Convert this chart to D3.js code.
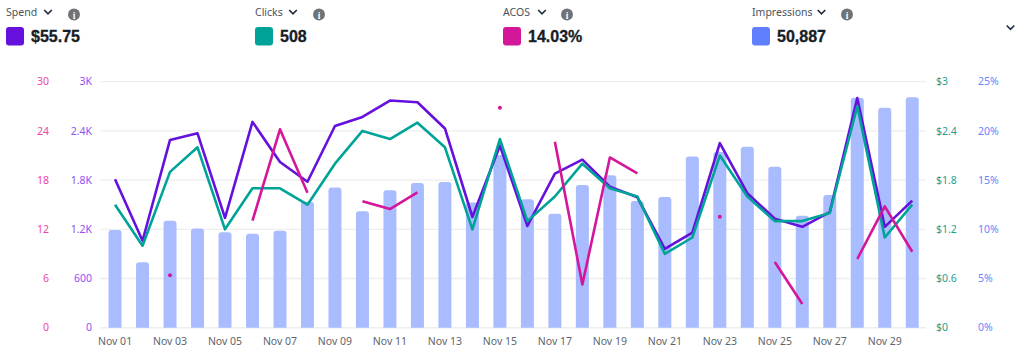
<!DOCTYPE html>
<html><head><meta charset="utf-8">
<script src="https://cdn.jsdelivr.net/npm/d3@7"></script>
<style>html,body{margin:0;padding:0;background:#fff}svg{display:block}text{font-family:"Noto Sans",sans-serif}</style>
</head><body><svg id="c" width="1024" height="360"></svg>
<script>
const days = d3.range(1,31).map(d=>"Nov "+String(d).padStart(2,"0"));
const impressions = [1191,797,1305,1211,1163,1146,1183,1537,1711,1419,1675,1764,1776,1528,2106,1565,1390,1740,1858,1545,1593,2089,2144,2207,1963,1366,1618,2805,2683,2809];
const spend = [1.81,1.06,2.29,2.37,1.34,2.51,2.02,1.78,2.46,2.57,2.77,2.75,2.43,1.35,2.22,1.24,1.88,2.05,1.72,1.59,0.96,1.16,2.25,1.64,1.33,1.23,1.41,2.80,1.23,1.55];
const clicks = [15,10,19,22,12,17,17,15,20,24,23,25,22,12,23,13,16,20,17,16,9,11,21,16,13,13,14,27,11,15];
const acos = [null,null,5.32,null,null,10.88,20.16,13.72,null,12.84,12.06,13.76,null,null,22.36,null,18.9,4.4,17.3,15.69,null,null,11.28,null,6.67,2.41,null,6.98,12.33,7.72];
const pinkTicks = ["0","6","12","18","24","30"];
const purpleTicks = ["0","600","1.2K","1.8K","2.4K","3K"];
const tealTicks = ["$0","$0.6","$1.2","$1.8","$2.4","$3"];
const blueTicks = ["0%","5%","10%","15%","20%","25%"];
const metrics = [
 {name:"Spend",value:"$55.75",x:6,color:"#6610dd",chevX:48,infoX:74},
 {name:"Clicks",value:"508",x:255,color:"#00a398",chevX:293,infoX:319},
 {name:"ACOS",value:"14.03%",x:503,color:"#d4169a",chevX:542,infoX:567},
 {name:"Impressions",value:"50,887",x:752,color:"#5f7fff",chevX:821.5,infoX:847}
];
const svg = d3.select("#c");
const x = d3.scaleBand().domain(days).range([101.3,926]);
const yTop=81.7, yBot=327.7;
const yImp = d3.scaleLinear().domain([0,3000]).range([yBot,yTop]);
const ySpend = d3.scaleLinear().domain([0,3]).range([yBot,yTop]);
const yClicks = d3.scaleLinear().domain([0,30]).range([yBot,yTop]);
const yAcos = d3.scaleLinear().domain([0,25]).range([yBot,yTop]);
const cx = d=>x(d)+x.bandwidth()/2;

// gridlines
const yIdx = d3.scaleLinear().domain([0,5]).range([yBot,yTop]);
svg.append("g").selectAll("line").data(d3.range(6)).join("line")
 .attr("x1",100).attr("x2",926).attr("y1",d=>yIdx(d)).attr("y2",d=>yIdx(d))
 .attr("stroke","#eeeeee").attr("stroke-width",d=>d===0?1.6:1.3);

// bars
const bw=13;
svg.append("g").selectAll("path").data(days).join("path")
 .attr("fill","#a9bcff")
 .attr("d",(d,i)=>{const l=cx(d)-bw/2,t=yImp(impressions[i]),r=3;
   return `M${l},${yBot}V${t+r}Q${l},${t} ${l+r},${t}H${l+bw-r}Q${l+bw},${t} ${l+bw},${t+r}V${yBot}Z`;});

// lines
const lineOf=(arr,y)=>d3.line().defined((d,i)=>arr[i]!==null).x(d=>cx(d)).y((d,i)=>y(arr[i]));
const drawLine=(arr,y,c)=>svg.append("path").datum(days).attr("fill","none").attr("stroke",c).attr("stroke-width",2.6).attr("stroke-linejoin","round").attr("d",lineOf(arr,y));
drawLine(spend,ySpend,"#6610dd");
drawLine(clicks,yClicks,"#00a398");
drawLine(acos,yAcos,"#d4169a");
// isolated acos points
svg.append("g").selectAll("circle").data(days.filter((d,i)=>acos[i]!==null&&acos[i-1]==null&&acos[i+1]==null)).join("circle")
 .attr("cx",cx).attr("cy",d=>yAcos(acos[days.indexOf(d)])).attr("r",2).attr("fill","#d4169a");

// axes
const tickAxis=(labels,xp,anchor,color)=>svg.append("g").selectAll("text").data(labels).join("text")
 .attr("x",xp).attr("y",(d,i)=>yIdx(i)).attr("dy","0.36em").attr("text-anchor",anchor)
 .attr("font-size",10.5).attr("fill",color).text(d=>d);
tickAxis(pinkTicks,49,"end","#ee44aa");
tickAxis(purpleTicks,92,"end","#9050f2");
tickAxis(tealTicks,936,"start","#1fa090");
tickAxis(blueTicks,978,"start","#6585ff");

svg.append("g").selectAll("text").data(days.filter((d,i)=>i%2===0)).join("text")
 .attr("x",cx).attr("y",341).attr("dy","0.36em").attr("text-anchor","middle")
 .attr("font-size",10.5).attr("fill","#60656d").text(d=>d);

// header
const chev=(g,xc,yc)=>g.append("path").attr("d",`M${xc-3.8},${yc-2}L${xc},${yc+1.8}L${xc+3.8},${yc-2}`).attr("fill","none").attr("stroke","#232f3e").attr("stroke-width",1.7);
metrics.forEach(m=>{
 const g=svg.append("g");
 g.append("text").attr("x",m.x).attr("y",16).attr("font-size",10.5).attr("fill","#4a525c").text(m.name);
 chev(g,m.chevX,12);
 g.append("circle").attr("cx",m.infoX).attr("cy",14.5).attr("r",6).attr("fill","#6f7378");
 g.append("text").attr("x",m.infoX).attr("y",18.5).attr("text-anchor","middle").attr("font-size",9.5).attr("font-weight",700).attr("fill","#fff").attr("style","font-family:'Liberation Serif',serif").text("i");
 g.append("rect").attr("x",m.x).attr("y",27).attr("width",18).attr("height",18.5).attr("rx",3).attr("fill",m.color);
 g.append("text").attr("x",m.x+25).attr("y",42).attr("font-size",16).attr("font-weight",700).attr("fill","#161d26").attr("stroke","#161d26").attr("stroke-width",0.3).attr("style","font-family:'Liberation Sans',sans-serif").text(m.value);
});
chev(svg,1010.5,27.5);
</script></body></html>
